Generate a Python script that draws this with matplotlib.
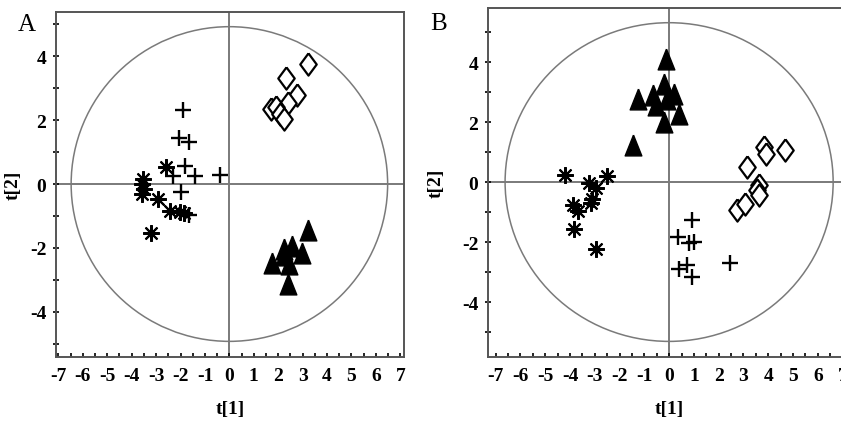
"""Two-panel PCA score plot (t[1] vs t[2]) with Hotelling ellipses."""

import matplotlib

matplotlib.use("Agg")
import matplotlib.pyplot as plt
from matplotlib.patches import Ellipse
from matplotlib.ticker import MultipleLocator

plt.rcParams["axes.unicode_minus"] = False

# ---- panel A scores ----
a_plus_x = [-1.88, -2.08, -1.67, -1.81, -1.40, -2.31, -0.38, -1.97, -1.67]
a_plus_y = [2.32, 1.43, 1.31, 0.55, 0.24, 0.26, 0.29, -0.24, -0.97]
a_star_x = [-3.53, -3.58, -3.51, -3.58, -2.94, -2.58, -2.42, -2.01, -1.85, -3.21]
a_star_y = [0.16, 0.00, -0.16, -0.31, -0.47, 0.52, -0.86, -0.89, -0.92, -1.54]
a_diam_x = [3.22, 2.31, 2.75, 2.40, 1.70, 1.90, 2.07, 2.24]
a_diam_y = [3.77, 3.32, 2.80, 2.55, 2.35, 2.40, 2.19, 2.04]
a_tri_x = [3.20, 1.75, 2.25, 2.58, 2.98, 2.45, 2.41, 2.25]
a_tri_y = [-1.44, -2.48, -2.04, -1.95, -2.16, -2.50, -3.12, -2.22]

# ---- panel B scores ----
b_plus_x = [0.94, 0.36, 0.80, 1.02, 2.44, 0.40, 0.74, 0.94]
b_plus_y = [-1.27, -1.82, -2.02, -2.00, -2.70, -2.89, -2.77, -3.18]
b_star_x = [-4.22, -2.50, -3.22, -2.96, -3.89, -3.69, -3.15, -3.10, -3.82, -2.95]
b_star_y = [0.22, 0.20, -0.03, -0.21, -0.78, -0.95, -0.70, -0.55, -1.56, -2.22]
b_diam_x = [4.69, 3.82, 3.89, 3.15, 3.62, 3.55, 3.62, 2.75, 3.08]
b_diam_y = [1.06, 1.17, 0.94, 0.50, -0.11, -0.28, -0.44, -0.94, -0.72]
b_tri_x = [-0.13, -1.25, -0.67, -0.54, -0.20, 0.20, 0.40, -0.20, -1.47, -0.07]
b_tri_y = [4.11, 2.78, 2.89, 2.56, 3.28, 2.94, 2.28, 2.00, 1.22, 2.78]

x_ticks = list(range(-7, 8))
y_ticks = [-4, -2, 0, 2, 4]

SERIF = "Liberation Serif"
DIAMOND = [(0, 1), (0.74, 0), (0, -1), (-0.74, 0), (0, 1)]
TRIANGLE = [(0, 1), (0.8, -1), (-0.8, -1), (0, 1)]
GREY = "#7a7a7a"


def draw_panel(ax, series, xlim, ylim, ellipse_w, ellipse_h, ylabel_x):
    ax.set_xlim(*xlim)
    ax.set_ylim(*ylim)
    ax.axhline(0, color=GREY, lw=1.4, zorder=1)
    ax.axvline(0, color=GREY, lw=1.4, zorder=1)
    ax.add_patch(
        Ellipse((0, 0), 2 * ellipse_w, 2 * ellipse_h, fill=False, ec=GREY, lw=1.1, zorder=1)
    )

    plus_x, plus_y, star_x, star_y, diam_x, diam_y, tri_x, tri_y = series
    ax.plot(plus_x, plus_y, ls="none", marker="+", ms=12, mew=1.7, color="black", zorder=3)
    ax.plot(star_x, star_y, ls="none", marker=(8, 2, 0), ms=12, mew=1.5, color="black", zorder=3)
    ax.plot(diam_x, diam_y, ls="none", marker=DIAMOND, ms=16, mew=1.6, mfc="white",
            mec="black", zorder=3)
    ax.plot(tri_x, tri_y, ls="none", marker=TRIANGLE, ms=15, mew=1, color="black", zorder=4)

    ax.set_xticks(x_ticks)
    ax.set_yticks(y_ticks)
    ax.xaxis.set_minor_locator(MultipleLocator(0.5))
    ax.yaxis.set_minor_locator(MultipleLocator(1))
    ax.tick_params(axis="x", which="both", direction="in", length=3, width=1.2, pad=7)
    ax.tick_params(axis="y", which="both", direction="inout", length=4, width=1.2, pad=5)
    for lab in ax.get_xticklabels() + ax.get_yticklabels():
        lab.set_fontfamily(SERIF)
        lab.set_fontweight("bold")
        lab.set_fontsize(14)
    for sp in ax.spines.values():
        sp.set_color("#555555")
        sp.set_linewidth(1.4)

    ax.set_xlabel("t[1]", fontfamily=SERIF, fontweight="bold", fontsize=14, labelpad=12)
    ax.set_ylabel("t[2]", fontfamily=SERIF, fontweight="bold", fontsize=14)
    ax.yaxis.set_label_coords(ylabel_x, 0.5)


fig = plt.figure(figsize=(8.41, 4.27), dpi=100)
W, H = 841, 427

ax_a = fig.add_axes([56 / W, (H - 358) / H, (404 - 56) / W, (358 - 13) / H])
draw_panel(
    ax_a,
    (a_plus_x, a_plus_y, a_star_x, a_star_y, a_diam_x, a_diam_y, a_tri_x, a_tri_y),
    (-7.1, 7.15), (-5.42, 5.39), 6.48, 4.93, -0.1,
)

ax_b = fig.add_axes([488 / W, (H - 358) / H, (850 - 488) / W, (358 - 9) / H])
draw_panel(
    ax_b,
    (b_plus_x, b_plus_y, b_star_x, b_star_y, b_diam_x, b_diam_y, b_tri_x, b_tri_y),
    (-7.31, 7.3), (-5.83, 5.8), 6.62, 5.31, -0.121,
)

fig.text(27 / W, 1 - 25 / H, "A", fontfamily=SERIF, fontsize=18, ha="center", va="center")
fig.text(439 / W, 1 - 24 / H, "B", fontfamily=SERIF, fontsize=18, ha="center", va="center")

fig.savefig("out.png", dpi=100)
